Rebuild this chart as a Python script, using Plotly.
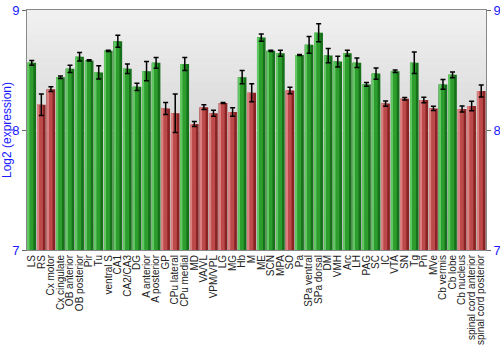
import plotly.graph_objects as go

categories = ["LS", "RS", "Cx motor", "Cx cingulate", "OB anterior", "OB posterior", "Pir", "Tu",
              "ventral S", "CA1", "CA2/CA3", "DG", "A anterior", "A posterior", "GP", "CPu lateral",
              "CPu medial", "MD", "VA/VL", "VPM/VPL", "LG", "MG", "Hb", "M", "ME", "SCN", "MPA", "SO",
              "Pa", "SPa ventral", "SPa dorsal", "DM", "VMH", "Arc", "LH", "PAG", "SC", "IC", "VTA",
              "SN", "Tg", "Pn", "MVe", "Cb vermis", "Cb lobe", "Cb nucleus",
              "spinal cord anterior", "spinal cord posterior"]

values = [8.56, 8.21, 8.34, 8.44, 8.51, 8.61, 8.58, 8.48, 8.66, 8.74, 8.51, 8.36, 8.49, 8.56,
          8.18, 8.14, 8.55, 8.05, 8.19, 8.14, 8.225, 8.15, 8.44, 8.31, 8.77, 8.66, 8.64, 8.33,
          8.625, 8.71, 8.81, 8.62, 8.57, 8.64, 8.56, 8.38, 8.47, 8.22, 8.49, 8.26, 8.56, 8.25,
          8.18, 8.38, 8.46, 8.175, 8.20, 8.325]

errors = [0.02, 0.09, 0.02, 0.01, 0.03, 0.035, 0.005, 0.055, 0.005, 0.05, 0.04, 0.03, 0.08, 0.045,
          0.05, 0.16, 0.055, 0.02, 0.02, 0.025, 0.005, 0.035, 0.055, 0.075, 0.03, 0.005, 0.025, 0.027,
          0.005, 0.07, 0.075, 0.06, 0.045, 0.024, 0.04, 0.015, 0.047, 0.022, 0.01, 0.01, 0.09, 0.022,
          0.017, 0.04, 0.024, 0.025, 0.04, 0.05]

# 1 = up (green), 0 = down (red)
direction = [1, 0, 0, 1, 1, 1, 1, 1, 1, 1, 1, 1, 1, 1, 0, 0, 1, 0, 0, 0, 0, 0, 1, 0, 1, 1, 1, 0,
             1, 1, 1, 1, 1, 1, 1, 1, 1, 0, 1, 0, 1, 0, 0, 1, 1, 0, 0, 0]

y_ticks = [7, 8, 9]

dark = {1: "#17701a", 0: "#8a2424"}
mid = {1: "#2d9e2d", 0: "#bd4a4a"}
light = {1: "#62c662", 0: "#db8080"}

fig = go.Figure()

# background gradient (light at top, darker lower)
n = 40
for k in range(n):
    t = k / n
    g = int(242 - 50 * (1 - t))
    fig.add_shape(type="rect", xref="paper", yref="paper", x0=0, x1=1, y0=t, y1=(k + 1) / n,
                  fillcolor=f"rgb({g},{g},{g})", line_width=0, layer="below")

base = 7
fig.add_trace(go.Bar(x=categories, y=[v - base for v in values], base=base, width=0.9,
                     marker=dict(color=[dark[d] for d in direction], line_width=0),
                     hoverinfo="skip", showlegend=False))
fig.add_trace(go.Bar(x=categories, y=[v - base for v in values], base=base, width=0.62, offset=-0.45,
                     marker=dict(color=[mid[d] for d in direction], line_width=0),
                     hoverinfo="skip", showlegend=False))
fig.add_trace(go.Bar(x=categories, y=[v - base for v in values], base=base, width=0.16, offset=-0.4,
                     marker=dict(color=[light[d] for d in direction], line_width=0),
                     hoverinfo="skip", showlegend=False))
fig.add_trace(go.Scatter(x=categories, y=values, mode="markers", marker=dict(size=1, opacity=0),
                         error_y=dict(type="data", array=errors, color="black", thickness=1.5, width=2.5),
                         showlegend=False, hoverinfo="skip"))
fig.add_trace(go.Scatter(x=[categories[0]], y=[base], yaxis="y2", mode="markers",
                         marker=dict(opacity=0), showlegend=False, hoverinfo="skip"))

axis_font = dict(family="Liberation Sans, Arial", size=13, color="#1a1aff")
fig.update_layout(
    width=500, height=350,
    margin=dict(l=27, r=14, t=10, b=100),
    barmode="overlay",
    paper_bgcolor="white",
    plot_bgcolor="rgba(0,0,0,0)",
    font=dict(family="Liberation Sans, Arial", color="black"),
    xaxis=dict(tickangle=-90, tickmode="array", tickvals=categories, ticktext=categories,
               tickfont=dict(size=10, color="#222"), showline=True, automargin=False,
               linecolor="#888", mirror=True, ticks="", showgrid=False, range=[-0.5, 47.5]),
    yaxis=dict(range=[7, 9], tickvals=y_ticks, ticks="outside", ticklen=4, tickcolor="#666",
               tickfont=axis_font, showline=True, linecolor="#888", showgrid=True, automargin=False,
               gridcolor="rgba(255,255,255,0.7)", gridwidth=1, zeroline=False,
               title=dict(text="Log2 (expression)", font=dict(family="Liberation Sans, Arial", size=12, color="#1a1aff"),
                          standoff=2), layer="above traces"),
    yaxis2=dict(range=[7, 9], tickvals=y_ticks, overlaying="y", side="right", ticks="outside",
                ticklen=4, tickcolor="#666", tickfont=axis_font, showline=True, linecolor="#888",
                showgrid=False, zeroline=False, automargin=False),
)

fig.write_html("out.html")
